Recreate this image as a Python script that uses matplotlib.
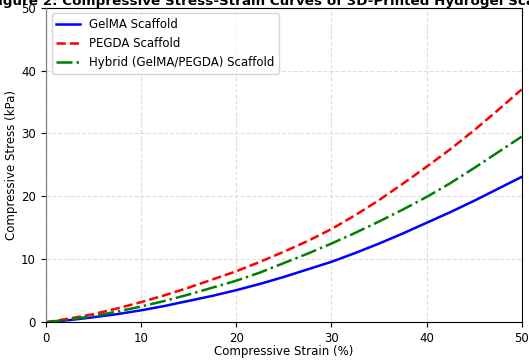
import matplotlib
matplotlib.use('Agg')
import matplotlib.pyplot as plt
import numpy as np

# strain (%) and stress (kPa)
strain = [0, 2.5, 5, 7.5, 10, 12.5, 15, 17.5, 20, 22.5, 25, 27.5, 30,
          32.5, 35, 37.5, 40, 42.5, 45, 47.5, 50]
gelma_stress = [0, 0.35, 0.8, 1.3, 1.9, 2.6, 3.4, 4.2, 5.1, 6.1, 7.2, 8.4, 9.6,
                11.0, 12.5, 14.1, 15.8, 17.5, 19.3, 21.2, 23.1]
pegda_stress = [0, 0.6, 1.3, 2.2, 3.2, 4.3, 5.5, 6.8, 8.1, 9.6, 11.2, 12.9, 14.8,
                17.0, 19.4, 22.0, 24.7, 27.5, 30.5, 33.7, 37.0]
hybrid_stress = [0, 0.45, 1.0, 1.7, 2.5, 3.4, 4.4, 5.5, 6.6, 7.9, 9.4, 10.9, 12.5,
                 14.2, 16.0, 17.9, 19.9, 22.1, 24.5, 27.0, 29.5]

labels = ['GelMA Scaffold', 'PEGDA Scaffold', 'Hybrid (GelMA/PEGDA) Scaffold']
colors = ['blue', 'red', 'green']
styles = ['-', '--', '-.']

plt.rcParams['font.size'] = 8.5

fig = plt.figure(figsize=(5.29, 3.6), dpi=100)
ax = fig.add_axes([0.0864, 0.1047, 0.8998, 0.8743])

for y, label, c, ls in zip([gelma_stress, pegda_stress, hybrid_stress], labels, colors, styles):
    ax.plot(strain, y, color=c, linestyle=ls, linewidth=1.8, label=label)

ax.axvline(0, color='gray', linewidth=1.5, zorder=3)
ax.set_xlim(0, 50)
ax.set_ylim(0, 50)
ax.set_xlabel('Compressive Strain (%)', labelpad=0)
ax.set_ylabel('Compressive Stress (kPa)', labelpad=2)
ax.set_title('Figure 2: Compressive Stress-Strain Curves of 3D-Printed Hydrogel Scaffolds',
             fontweight='bold', fontsize=9.7, pad=0.3)
ax.grid(True, linestyle='--', alpha=0.4)
ax.legend(loc='upper left', fontsize=8.5)

fig.savefig('out.png', dpi=100)
